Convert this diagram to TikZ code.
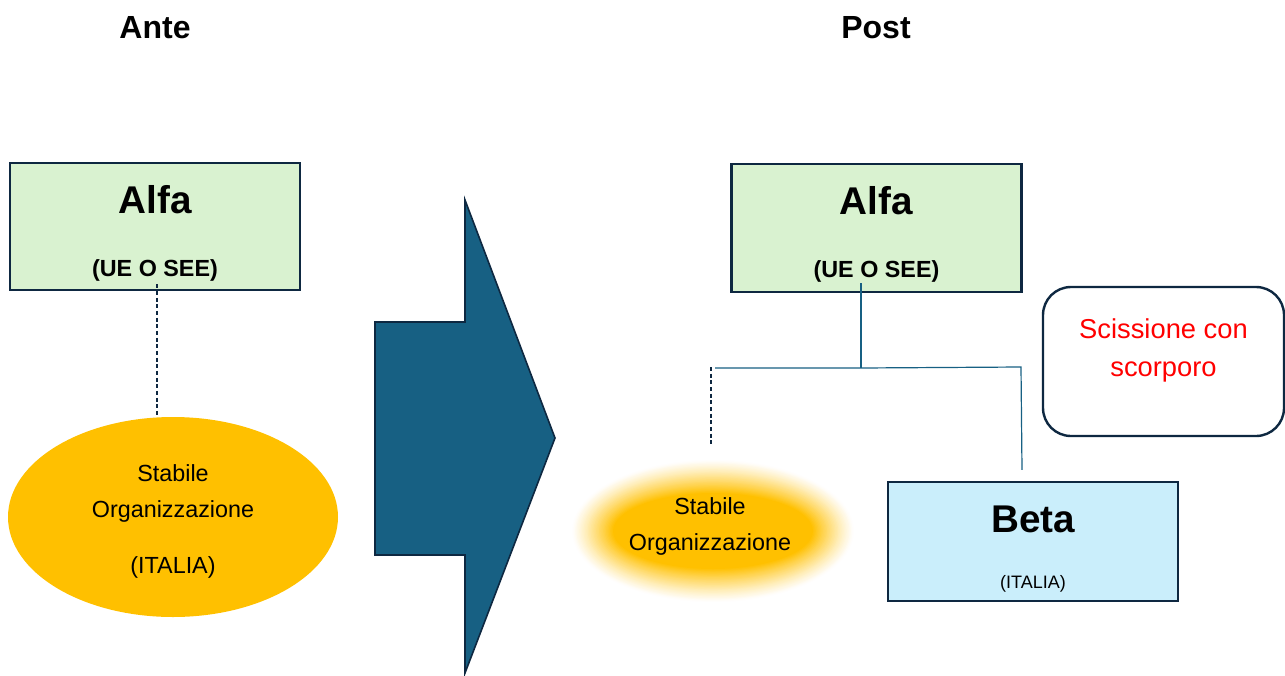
\documentclass[tikz,border=0pt]{standalone}
\usepackage{fontspec}
\setmainfont{Liberation Sans}
\usetikzlibrary{shapes.geometric,calc}
\definecolor{figG}{RGB}{217,242,208}
\definecolor{figC}{RGB}{202,238,251}
\definecolor{figY}{RGB}{255,192,0}
\definecolor{figT}{RGB}{23,96,131}
\definecolor{figN}{RGB}{14,40,65}
\definecolor{figR}{RGB}{255,0,0}

\begin{document}
\begin{tikzpicture}[x=0.75pt,y=-0.75pt,
  entbox/.style={draw=figN,line width=1.8pt,inner sep=0pt,minimum width=217.5pt},
  bigname/.style={font=\bfseries\fontsize{29}{32}\selectfont},
  tree/.style={figT,line width=0.9pt}]
\useasboundingbox (0,0) rectangle (1285,675);
% headings
\node[font=\bfseries\fontsize{24}{28}\selectfont] (ante) at (155,28) {Ante};
\node[font=\bfseries\fontsize{24}{28}\selectfont] (post) at (876,28) {Post};
% before: Alfa and its permanent establishment
\node[entbox,fill=figG,minimum height=95.25pt] (alfaA) at (155,226.5) {};
\node[bigname] (alfaAname) at ($(alfaA.north)+(0,38)$) {Alfa};
\node[font=\bfseries\fontsize{17.5}{20}\selectfont] (alfaAarea) at ($(alfaA.south)+(0,-21)$) {(UE O SEE)};
\node[ellipse,fill=figY,inner sep=0pt,minimum width=247.5pt,minimum height=150pt] (soA) at (173,517) {};
\node[align=center,font=\fontsize{17.5}{27}\selectfont] (soAtext) at (173,521) {Stabile\\Organizzazione\\[15pt](ITALIA)};
\draw[dashed,dash pattern=on 3pt off 2pt,figN,line width=0.9pt] ($(alfaA.south)+(2,-7)$) -- ($(soA.north)+(-16,0)$);
% big arrow
\filldraw[fill=figT,draw=figN,line width=1.2pt] (375,322) -- (465,322) -- (465,200) -- (555,438)
  -- (465,673) -- (465,555) -- (375,555) -- cycle;
% after: Alfa, Beta and the emptied establishment
\node[entbox,fill=figG,minimum height=96pt] (alfaB) at (876.5,228) {};
\node[bigname] (alfaBname) at ($(alfaB.north)+(0,38)$) {Alfa};
\node[font=\bfseries\fontsize{17.5}{20}\selectfont] (alfaBarea) at ($(alfaB.south)+(0,-22)$) {(UE O SEE)};
\node[entbox,fill=figC,minimum height=89.25pt] (betaB) at (1033,541.5) {};
\node[bigname] (betaBname) at ($(betaB.north)+(0,39)$) {Beta};
\node[font=\fontsize{13.5}{16}\selectfont] (betaBarea) at ($(betaB.south)+(0,-18)$) {(ITALIA)};
% soft glow round the establishment
\foreach \k in {0,...,30}{
  \pgfmathsetmacro\rx{142-42*\k/30}
  \pgfmathsetmacro\ry{72-34*\k/30}
  \pgfmathtruncatemacro\pc{100*(\k/30)^1.2}
  \fill[figY!\pc!white] (713,531) ellipse [x radius=\rx, y radius=\ry];
}
\node[ellipse,inner sep=0pt,minimum width=202pt,minimum height=102pt,
  align=center,font=\fontsize{17.5}{27}\selectfont] (soB) at (710,526) {Stabile\\Organizzazione};
\node[draw=figN,line width=1.8pt,rounded corners=21pt,minimum width=180.75pt,minimum height=111.75pt] (scis) at (1163.5,361.5) {};
\node[align=center,text=figR,font=\fontsize{20.5}{29}\selectfont] (scistext) at ($(scis.center)+(0,-11)$) {Scissione con\\scorporo};
% tree lines
\coordinate (jn) at (861,368);
\coordinate (jl) at (715,368);
\coordinate (jr) at (1021,367);
\draw[tree] ($(alfaB.south)+(-15.5,-10)$) -- (jn);
\draw[tree] (jl) -- (jn) -- (jr) -- ($(betaB.north)+(-11,-11)$);
\draw[dashed,dash pattern=on 3pt off 2pt,figN,line width=0.9pt] (711,367) -- ($(soB.north)+(1,-13)$);
\end{tikzpicture}
\end{document}
